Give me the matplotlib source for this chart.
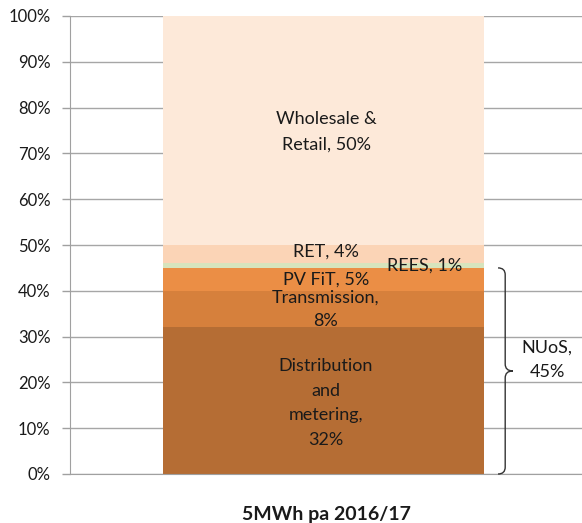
import matplotlib.pyplot as plt
from matplotlib.path import Path
from matplotlib.patches import PathPatch

# ---- data ----
categories = ["5MWh pa 2016/17"]
segments = ["Distribution\nand\nmetering,\n32%", "Transmission,\n8%", "PV FiT, 5%",
            "REES, 1%", "RET, 4%", "Wholesale &\nRetail, 50%"]
values = [32, 8, 5, 1, 4, 50]
colors = ["#B56D34", "#D6803C", "#EB8E45", "#D7E4BD", "#FBD4B6", "#FDE9D9"]
nuos_label = "NUoS,\n45%"
nuos_total = 45
yticks = list(range(0, 101, 10))

plt.rcParams['font.family'] = ['Lato', 'DejaVu Sans']

fig = plt.figure(figsize=(5.82, 5.23), dpi=100)
ax = fig.add_axes([70 / 582, 1 - 474 / 523, 512 / 582, 458 / 523])

# stacked bar
bar_w = 0.627
bottom = 0
for lab, v, c in zip(segments, values, colors):
    ax.bar(-0.004, v, width=bar_w, bottom=bottom, color=c, zorder=2, linewidth=0)
    bottom += v

# segment labels (positions tuned to match the original layout)
label_pos = {
    segments[0]: (0, 15.5, 1.68),
    segments[1]: (0, 36, 1.55),
    segments[2]: (0, 42.5, 1.4),
    segments[3]: (0.193, 45.6, 1.4),
    segments[4]: (0, 48.5, 1.4),
    segments[5]: (0, 74.8, 1.75),
}
for lab in segments:
    x, y, ls = label_pos[lab]
    ax.text(x, y, lab, ha='center', va='center', fontsize=13,
            color='#1a1a1a', zorder=4, linespacing=ls)

# curly brace for NUoS
x0, x1, x2 = 0.336, 0.350, 0.365
mid = nuos_total / 2
verts = [(x0, nuos_total), (x1, nuos_total), (x1, nuos_total - 1.5),
         (x1, mid + 1.5), (x1, mid), (x2, mid),
         (x1, mid), (x1, mid - 1.5),
         (x1, 1.5), (x1, 0), (x0, 0)]
codes = [Path.MOVETO, Path.CURVE3, Path.CURVE3,
         Path.LINETO, Path.CURVE3, Path.CURVE3,
         Path.CURVE3, Path.CURVE3,
         Path.LINETO, Path.CURVE3, Path.CURVE3]
ax.add_patch(PathPatch(Path(verts, codes), fill=False, edgecolor='#333333',
                       linewidth=1, zorder=3, clip_on=False))
ax.text(0.432, 24.9, nuos_label, ha='center', va='center', fontsize=13,
        color='#1a1a1a', linespacing=1.65)

# axes styling
ax.set_xlim(-0.5, 0.5)
ax.set_ylim(0, 100)
ax.set_yticks(yticks)
ax.set_yticklabels([f"{t}%" for t in yticks], fontsize=12, color='#1a1a1a')
ax.tick_params(axis='y', length=6, color='#A0A0A0', width=1, pad=8)
ax.set_xticks([])
ax.grid(axis='y', color='#A6A6A6', linewidth=1, zorder=0)
ax.set_axisbelow(True)
for s in ['top', 'right']:
    ax.spines[s].set_visible(False)
ax.spines['left'].set_color('#A0A0A0')
ax.spines['bottom'].set_color('#A0A0A0')
ax.set_xlabel(categories[0], fontsize=14, fontweight='bold', color='#1a1a1a',
              labelpad=23)

fig.savefig("out.png", dpi=100)
